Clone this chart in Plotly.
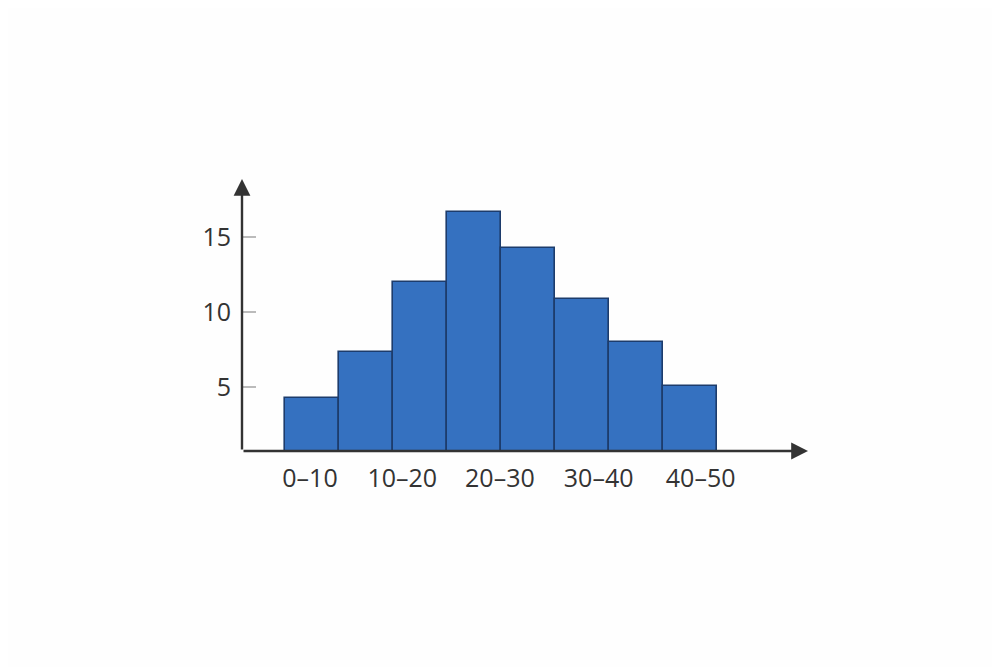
import plotly.graph_objects as go

# data
bin_index = [0, 1, 2, 3, 4, 5, 6, 7]
counts = [4.3, 7.35, 12.0, 16.7, 14.3, 10.9, 8.0, 5.1]
x_tick_labels = ["0\u201310", "10\u201320", "20\u201330", "30\u201340", "40\u201350"]
x_tick_pos = [0.46, 2.17, 3.98, 5.81, 7.7]
y_tick_vals = [5, 10, 15]

X_RANGE = [-0.8, 9.69]
Y_RANGE = [0.733, 18.87]

fig = go.Figure()
fig.add_trace(go.Bar(
    x=[i + 0.5 for i in bin_index],
    y=counts,
    width=1.0,
    marker=dict(color="rgb(53,113,192)", line=dict(color="#1d3c6c", width=1.6)),
    showlegend=False,
    hoverinfo="skip",
))

axis_color = "#333333"
# x axis with arrow
fig.add_annotation(x=X_RANGE[1], y=Y_RANGE[0], ax=X_RANGE[0], ay=Y_RANGE[0],
                   xref="x", yref="y", axref="x", ayref="y", text="",
                   showarrow=True, arrowhead=2, arrowsize=1.4, arrowwidth=2.4,
                   arrowcolor=axis_color, standoff=0)
# y axis with arrow
fig.add_annotation(x=X_RANGE[0], y=Y_RANGE[1], ax=X_RANGE[0], ay=Y_RANGE[0],
                   xref="x", yref="y", axref="x", ayref="y", text="",
                   showarrow=True, arrowhead=2, arrowsize=1.4, arrowwidth=2.4,
                   arrowcolor=axis_color, standoff=0)

fig.update_layout(
    width=1000, height=667,
    margin=dict(l=234, r=200, t=171, b=224),
    paper_bgcolor="#fefefe", plot_bgcolor="#fefefe",
    font=dict(family="Open Sans", size=25, color="#333333"),
    bargap=0,
    xaxis=dict(range=X_RANGE, tickvals=x_tick_pos, ticktext=x_tick_labels,
               showgrid=False, zeroline=False, showline=False, ticks="",
               ticklabelstandoff=10, tickfont=dict(size=25, color="#333333")),
    yaxis=dict(range=Y_RANGE, tickvals=y_tick_vals, showgrid=False, zeroline=False,
               showline=False, ticks="inside", ticklen=14, tickwidth=1.5,
               tickcolor="#bbbbbb", ticklabelstandoff=10,
               tickfont=dict(size=25, color="#333333")),
)

fig.write_html("out.html")
